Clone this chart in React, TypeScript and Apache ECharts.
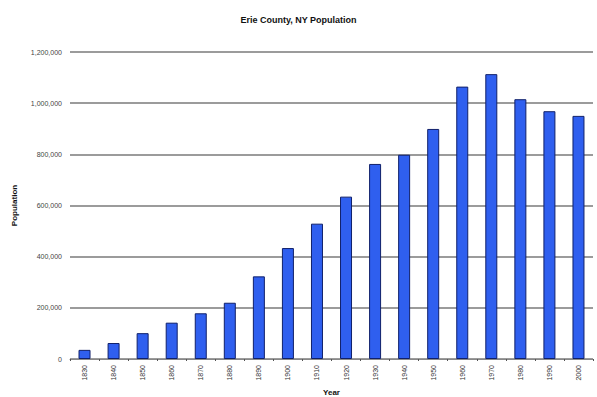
import React, { useEffect, useRef } from "react";
import * as echarts from "echarts";

const years = ["1830","1840","1850","1860","1870","1880","1890","1900","1910","1920","1930","1940","1950","1960","1970","1980","1990","2000"];
const population = [35719,62465,100993,141971,178699,219884,322981,433686,528985,634688,762408,798377,899238,1064688,1113491,1015472,968532,950265];

export default function App() {
  const ref = useRef<HTMLDivElement>(null);
  useEffect(() => {
    const chart = echarts.init(ref.current!, undefined, { renderer: "svg" });
    chart.setOption({
      animation: false,
      backgroundColor: "#ffffff",
      title: {
        text: "Erie County, NY Population",
        left: "center",
        top: 10,
        textStyle: { fontFamily: "Liberation Sans, Arial", fontSize: 9, fontWeight: "bold", color: "#111" },
      },
      grid: { left: 70, right: 4, top: 52, bottom: 38, containLabel: false, outerBoundsMode: "none" },
      xAxis: {
        type: "category",
        data: years,
        name: "Year",
        nameLocation: "middle",
        nameGap: 28,
        nameTextStyle: { fontFamily: "Liberation Sans, Arial", fontSize: 8, fontWeight: "bold", color: "#111" },
        axisLine: { lineStyle: { color: "#888", width: 1 } },
        axisTick: { show: true, length: 2, lineStyle: { color: "#555" } },
        axisLabel: { rotate: 90, fontSize: 7, color: "#333", fontFamily: "Liberation Sans, Arial", margin: 6 },
      },
      yAxis: {
        type: "value",
        min: 0,
        max: 1200000,
        interval: 200000,
        name: "Population",
        nameLocation: "middle",
        nameGap: 52,
        nameRotate: 90,
        nameTextStyle: { fontFamily: "Liberation Sans, Arial", fontSize: 8, fontWeight: "bold", color: "#111" },
        axisLine: { show: false },
        axisTick: { show: false },
        splitLine: { lineStyle: { color: "#7a7a7a", width: 1.5 } },
        axisLabel: {
          fontSize: 7,
          color: "#444",
          fontFamily: "Liberation Sans, Arial",
          margin: 8,
          formatter: (v: number) => v.toLocaleString("en-US"),
        },
      },
      series: [
        {
          type: "bar",
          data: population,
          barWidth: 12,
          itemStyle: { color: "#2f5fef", borderColor: "#10206a", borderWidth: 1 },
        },
      ],
    });
    return () => chart.dispose();
  }, []);
  return <div ref={ref} style={{ width: 597, height: 397, position: "absolute", left: 0, top: 0 }} />;
}
